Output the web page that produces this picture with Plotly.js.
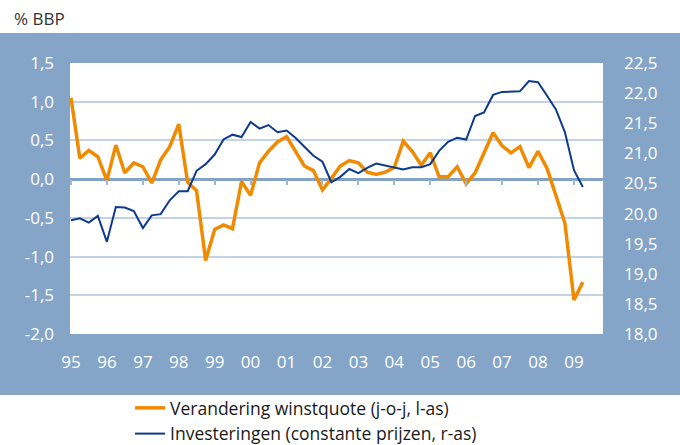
<!DOCTYPE html>
<html><head><meta charset="utf-8">
<script src="https://cdn.plot.ly/plotly-3.0.1.min.js"></script>
<style>html,body{margin:0;padding:0;background:#fff}#chart{width:680px;height:445px}</style>
</head><body><div id="chart"></div>
<script>
const quarters = [
 '1995-01-01','1995-04-01','1995-07-01','1995-10-01',
 '1996-01-01','1996-04-01','1996-07-01','1996-10-01',
 '1997-01-01','1997-04-01','1997-07-01','1997-10-01',
 '1998-01-01','1998-04-01','1998-07-01','1998-10-01',
 '1999-01-01','1999-04-01','1999-07-01','1999-10-01',
 '2000-01-01','2000-04-01','2000-07-01','2000-10-01',
 '2001-01-01','2001-04-01','2001-07-01','2001-10-01',
 '2002-01-01','2002-04-01','2002-07-01','2002-10-01',
 '2003-01-01','2003-04-01','2003-07-01','2003-10-01',
 '2004-01-01','2004-04-01','2004-07-01','2004-10-01',
 '2005-01-01','2005-04-01','2005-07-01','2005-10-01',
 '2006-01-01','2006-04-01','2006-07-01','2006-10-01',
 '2007-01-01','2007-04-01','2007-07-01','2007-10-01',
 '2008-01-01','2008-04-01','2008-07-01','2008-10-01',
 '2009-01-01','2009-04-01'
];
const winstquote = [
 1.05, 0.27, 0.37, 0.29,
 -0.02, 0.44, 0.08, 0.21,
 0.16, -0.05, 0.25, 0.42,
 0.71, -0.04, -0.15, -1.05,
 -0.65, -0.59, -0.64, -0.03,
 -0.21, 0.21, 0.36, 0.48,
 0.55, 0.36, 0.17, 0.11,
 -0.14, 0.01, 0.17, 0.24,
 0.21, 0.09, 0.06, 0.09,
 0.15, 0.49, 0.36, 0.18,
 0.34, 0.03, 0.03, 0.16,
 -0.06, 0.08, 0.34, 0.60,
 0.43, 0.34, 0.42, 0.15,
 0.36, 0.14, -0.21, -0.57,
 -1.56, -1.33
];
const investeringen = [
 19.89, 19.92, 19.85, 19.96,
 19.53, 20.11, 20.10, 20.04,
 19.76, 19.97, 19.99, 20.22,
 20.37, 20.37, 20.71, 20.82,
 20.98, 21.23, 21.31, 21.27,
 21.52, 21.41, 21.47, 21.35,
 21.38, 21.26, 21.11, 20.96,
 20.86, 20.52, 20.61, 20.74,
 20.67, 20.76, 20.83, 20.80,
 20.76, 20.73, 20.77, 20.77,
 20.82, 21.04, 21.19, 21.26,
 21.23, 21.62, 21.68, 21.97,
 22.02, 22.02, 22.03, 22.20,
 22.18, 21.96, 21.73, 21.35,
 20.72, 20.44
];
const yearTicks = ['1995-01-01','1996-01-01','1997-01-01','1998-01-01','1999-01-01','2000-01-01','2001-01-01','2002-01-01','2003-01-01','2004-01-01','2005-01-01','2006-01-01','2007-01-01','2008-01-01','2009-01-01'];
const yearLabels = ['95','96','97','98','99','00','01','02','03','04','05','06','07','08','09'];
const leftTickVals = [-2,-1.5,-1,-0.5,0,0.5,1,1.5];
const leftTickText = ['-2,0','-1,5','-1,0','-0,5','0,0','0,5','1,0','1,5'];
const rightTickVals = [18,18.5,19,19.5,20,20.5,21,21.5,22,22.5];
const rightTickText = ['18,0','18,5','19,0','19,5','20,0','20,5','21,0','21,5','22,0','22,5'];
const seriesNames = ['Verandering winstquote (j-o-j, l-as)','Investeringen (constante prijzen, r-as)'];

const BAND = '#84a5c7';
const FONT = '"Open Sans", "Noto Sans", sans-serif';
const xRange = ['1994-12-22','2009-10-23'];

const traces = [
 {x: quarters, y: winstquote, type:'scatter', mode:'lines', name: seriesNames[0],
  line:{color:'#f08a00', width:3.5}, xaxis:'x', yaxis:'y'},
 {x: quarters, y: investeringen, type:'scatter', mode:'lines', name: seriesNames[1],
  line:{color:'#0d3a8c', width:2}, xaxis:'x', yaxis:'y2'},
 {x: [], y: [], type:'scatter', mode:'lines', xaxis:'x2', yaxis:'y', showlegend:false, hoverinfo:'skip'}
];

const layout = {
 width:680, height:445,
 margin:{l:70, r:77, t:63, b:111, pad:0, autoexpand:false},
 paper_bgcolor:'#ffffff', plot_bgcolor:'#ffffff',
 font:{family:FONT, size:17, color:'#ffffff'},
 showlegend:true,
 legend:{orientation:'v', x:0.1126, xanchor:'left', y:-0.2066, yanchor:'top',
   font:{family:FONT, size:17.5, color:'#1a1a1a'}, bgcolor:'rgba(0,0,0,0)', borderwidth:0, tracegroupgap:0},
 xaxis:{type:'date', range:xRange, tickvals:yearTicks, ticktext:yearLabels,
   showgrid:false, zeroline:false, showline:false, ticks:'', ticklabelstandoff:16,
   tickfont:{family:FONT, size:17, color:'#ffffff'}, fixedrange:true},
 xaxis2:{type:'date', range:xRange, overlaying:'x', anchor:'free', position:2/3.5,
   tickvals:yearTicks, showticklabels:false, ticks:'outside', ticklen:5, tickwidth:2,
   tickcolor:'#9cb5d2', showgrid:false, zeroline:false, showline:false},
 yaxis:{range:[-2,1.5], tickvals:leftTickVals, ticktext:leftTickText,
   showgrid:true, gridcolor:'#c3d3e6', gridwidth:2,
   zeroline:true, zerolinecolor:'#83a3c6', zerolinewidth:3, showline:false, ticks:'',
   ticklabelstandoff:15, tickfont:{family:FONT, size:17, color:'#ffffff'}},
 yaxis2:{range:[18,22.5], overlaying:'y', side:'right', tickvals:rightTickVals, ticktext:rightTickText,
   showgrid:false, zeroline:false, showline:false, ticks:'', ticklabelstandoff:20,
   tickfont:{family:FONT, size:17, color:'#ffffff'}},
 shapes:[
  {type:'rect', xref:'paper', yref:'paper', x0:-0.14, x1:1.16, y0:-0.2251, y1:1.1107,
   fillcolor:BAND, line:{width:0}, layer:'below'},
  {type:'rect', xref:'paper', yref:'paper', x0:0, x1:1, y0:0, y1:1,
   fillcolor:'#ffffff', line:{width:0}, layer:'below'}
 ],
 annotations:[
  {text:'% BBP', xref:'paper', yref:'paper', x:-0.1088, y:1.164, xanchor:'left', yanchor:'middle',
   showarrow:false, font:{family:FONT, size:17, color:'#333333'}}
 ]
};

Plotly.newPlot('chart', traces, layout, {displayModeBar:false, staticPlot:true});
</script></body></html>
